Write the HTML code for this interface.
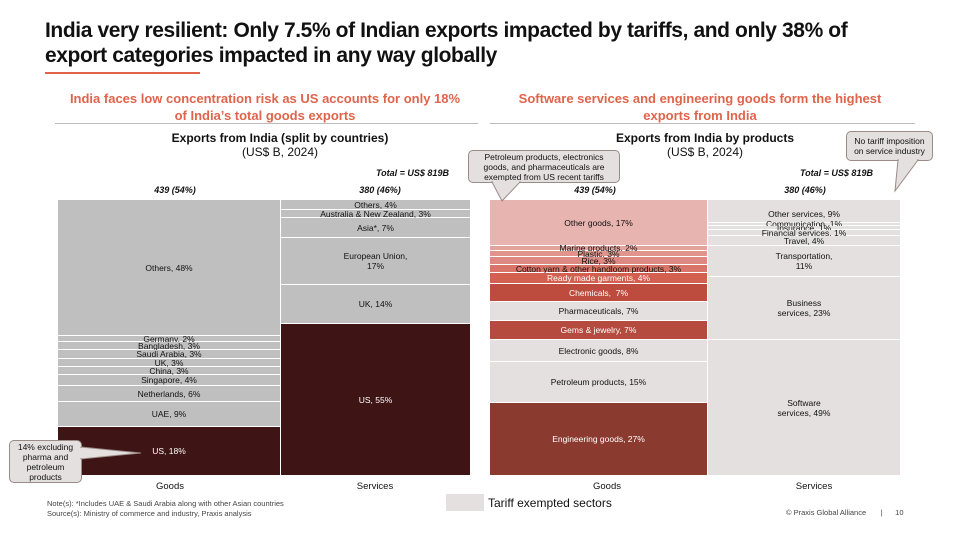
<!DOCTYPE html>
<html><head><meta charset="utf-8"><style>
*{margin:0;padding:0;box-sizing:border-box}
body{width:960px;height:540px;background:#fff;position:relative;overflow:hidden;font-family:"Liberation Sans",sans-serif;color:#111}
.a{position:absolute}
.t{font-size:21px;font-weight:bold;left:45px;top:18px;line-height:25px;letter-spacing:-0.4px;width:880px;white-space:nowrap}
.sub{color:#e0644c;font-weight:bold;font-size:13px;text-align:center;line-height:17px;white-space:nowrap}
.ct{font-weight:bold;font-size:12px;text-align:center;line-height:14px}
.ct span{font-weight:normal}
.seg{position:absolute;display:flex;align-items:center;justify-content:center;text-align:center;font-size:8.5px;line-height:10px;border-bottom:1px solid #fff;white-space:nowrap}
.w{color:#fff}
.g{background:#bfbfbf}
.d{background:#3f1414}
.l{background:#e4e0df}
.it{font-style:italic;font-weight:bold;font-size:9px}
.ax{font-size:9.5px;text-align:center}
.call{background:#e4e0df;border:1px solid #9a8a88;border-radius:5px;font-size:8.5px;line-height:10px;text-align:center;white-space:nowrap}
</style></head><body>
<div class="a t">India very resilient: Only 7.5% of Indian exports impacted by tariffs, and only 38% of<br>export categories impacted in any way globally</div>
<div class="a" style="left:45px;top:72px;width:155px;height:2px;background:#e0644c"></div>
<div class="a sub" style="left:55px;top:90px;width:420px">India faces low concentration risk as US accounts for only 18%<br>of India’s total goods exports</div>
<div class="a sub" style="left:490px;top:90px;width:420px">Software services and engineering goods form the highest<br>exports from India</div>
<div class="a" style="left:55px;top:123px;width:423px;height:1px;background:#bbb"></div>
<div class="a" style="left:490px;top:123px;width:425px;height:1px;background:#bbb"></div>
<div class="a ct" style="left:110px;top:131px;width:340px">Exports from India (split by countries)<br><span>(US$ B, 2024)</span></div>
<div class="a ct" style="left:560px;top:131px;width:290px">Exports from India by products<br><span>(US$ B, 2024)</span></div>
<div class="a it" style="left:376px;top:168px">Total = US$ 819B</div>
<div class="a it" style="left:800px;top:168px">Total = US$ 819B</div>
<div class="a it" style="left:120px;top:185px;width:110px;text-align:center">439 (54%)</div>
<div class="a it" style="left:325px;top:185px;width:110px;text-align:center">380 (46%)</div>
<div class="a it" style="left:540px;top:185px;width:110px;text-align:center">439 (54%)</div>
<div class="a it" style="left:750px;top:185px;width:110px;text-align:center">380 (46%)</div>

<div class="seg g" style="left:58px;width:222px;top:200px;height:136px">Others, 48%</div>
<div class="seg g" style="left:58px;width:222px;top:336px;height:6px">Germany, 2%</div>
<div class="seg g" style="left:58px;width:222px;top:342px;height:8px">Bangladesh, 3%</div>
<div class="seg g" style="left:58px;width:222px;top:350px;height:9px">Saudi Arabia, 3%</div>
<div class="seg g" style="left:58px;width:222px;top:359px;height:8px">UK, 3%</div>
<div class="seg g" style="left:58px;width:222px;top:367px;height:8px">China, 3%</div>
<div class="seg g" style="left:58px;width:222px;top:375px;height:11px">Singapore, 4%</div>
<div class="seg g" style="left:58px;width:222px;top:386px;height:16px">Netherlands, 6%</div>
<div class="seg g" style="left:58px;width:222px;top:402px;height:25px">UAE, 9%</div>
<div class="seg d w" style="left:58px;width:222px;top:427px;height:49px">US, 18%</div>
<div class="seg g" style="left:281px;width:189px;top:200px;height:10px">Others, 4%</div>
<div class="seg g" style="left:281px;width:189px;top:210px;height:8px">Australia &amp; New Zealand, 3%</div>
<div class="seg g" style="left:281px;width:189px;top:218px;height:20px">Asia*, 7%</div>
<div class="seg g" style="left:281px;width:189px;top:238px;height:47px">European Union,<br>17%</div>
<div class="seg g" style="left:281px;width:189px;top:285px;height:39px">UK, 14%</div>
<div class="seg d w" style="left:281px;width:189px;top:324px;height:152px">US, 55%</div>
<div class="a ax" style="left:130px;top:481px;width:80px">Goods</div>
<div class="a ax" style="left:335px;top:481px;width:80px">Services</div>
<div class="a call" style="left:9px;top:440px;width:73px;height:43px;padding-top:1px">14% excluding<br>pharma and<br>petroleum<br>products</div>
<svg class="a" style="left:80px;top:445px" width="62" height="20"><polygon points="1,2 61,8 1,14" fill="#e4e0df" stroke="#9a8a88"/><rect x="0" y="3" width="2" height="10" fill="#e4e0df"/></svg>

<div class="seg" style="left:490px;width:217px;top:200px;height:46px;background:#e8b4b0">Other goods, 17%</div>
<div class="seg" style="left:490px;width:217px;top:246px;height:5px;background:#e3a29c">Marine products, 2%</div>
<div class="seg" style="left:490px;width:217px;top:251px;height:6px;background:#e0948c">Plastic, 3%</div>
<div class="seg" style="left:490px;width:217px;top:257px;height:8px;background:#dd8880">Rice, 3%</div>
<div class="seg" style="left:490px;width:217px;top:265px;height:8px;background:#d87468">Cotton yarn &amp; other handloom products, 3%</div>
<div class="seg w" style="left:490px;width:217px;top:273px;height:11px;background:#d25f50">Ready made garments, 4%</div>
<div class="seg w" style="left:490px;width:217px;top:284px;height:18px;background:#bd4b3e">Chemicals,&nbsp; 7%</div>
<div class="seg l" style="left:490px;width:217px;top:302px;height:19px">Pharmaceuticals, 7%</div>
<div class="seg w" style="left:490px;width:217px;top:321px;height:19px;background:#b54a3e">Gems &amp; jewelry, 7%</div>
<div class="seg l" style="left:490px;width:217px;top:340px;height:22px">Electronic goods, 8%</div>
<div class="seg l" style="left:490px;width:217px;top:362px;height:41px">Petroleum products, 15%</div>
<div class="seg w" style="left:490px;width:217px;top:403px;height:73px;background:#8b3a30">Engineering goods, 27%</div>
<div class="seg l" style="left:708px;width:192px;top:200px;height:23px;padding-top:6px">Other services, 9%</div>
<div class="seg l" style="left:708px;width:192px;top:223px;height:3px">Communication, 1%</div>
<div class="seg l" style="left:708px;width:192px;top:226px;height:4px">Insurance, 1%</div>
<div class="seg l" style="left:708px;width:192px;top:230px;height:6px">Financial services, 1%</div>
<div class="seg l" style="left:708px;width:192px;top:236px;height:10px">Travel, 4%</div>
<div class="seg l" style="left:708px;width:192px;top:246px;height:31px">Transportation,<br>11%</div>
<div class="seg l" style="left:708px;width:192px;top:277px;height:63px">Business<br>services, 23%</div>
<div class="seg l" style="left:708px;width:192px;top:340px;height:136px">Software<br>services, 49%</div>
<div class="a ax" style="left:567px;top:481px;width:80px">Goods</div>
<div class="a ax" style="left:774px;top:481px;width:80px">Services</div>

<div class="a call" style="left:468px;top:150px;width:152px;height:33px;padding-top:1px">Petroleum products, electronics<br>goods, and pharmaceuticals are<br>exempted from US recent tariffs</div>
<svg class="a" style="left:490px;top:181px" width="40" height="22"><polygon points="2,1 12,20 30,1" fill="#e4e0df" stroke="#9a8a88"/><rect x="3" y="0" width="26" height="2" fill="#e4e0df"/></svg>
<div class="a call" style="left:846px;top:131px;width:87px;height:30px;padding-top:4px">No tariff imposition<br>on service industry</div>
<svg class="a" style="left:893px;top:159px" width="40" height="34"><polygon points="5,1 2,32 25,1" fill="#e4e0df" stroke="#9a8a88"/><rect x="6" y="0" width="18" height="2" fill="#e4e0df"/></svg>

<div class="a" style="left:446px;top:494px;width:38px;height:17px;background:#e4e0df"></div>
<div class="a" style="left:488px;top:496px;font-size:12px">Tariff exempted sectors</div>
<div class="a" style="left:47px;top:499px;font-size:7.5px;color:#444;line-height:10px">Note(s): *Includes UAE &amp; Saudi Arabia along with other Asian countries<br>Source(s): Ministry of commerce and industry, Praxis analysis</div>
<div class="a" style="left:786px;top:508px;font-size:7.5px;color:#444">© Praxis Global Alliance &nbsp;&nbsp;&nbsp;&nbsp;&nbsp; | &nbsp;&nbsp;&nbsp;&nbsp; 10</div>
</body></html>
